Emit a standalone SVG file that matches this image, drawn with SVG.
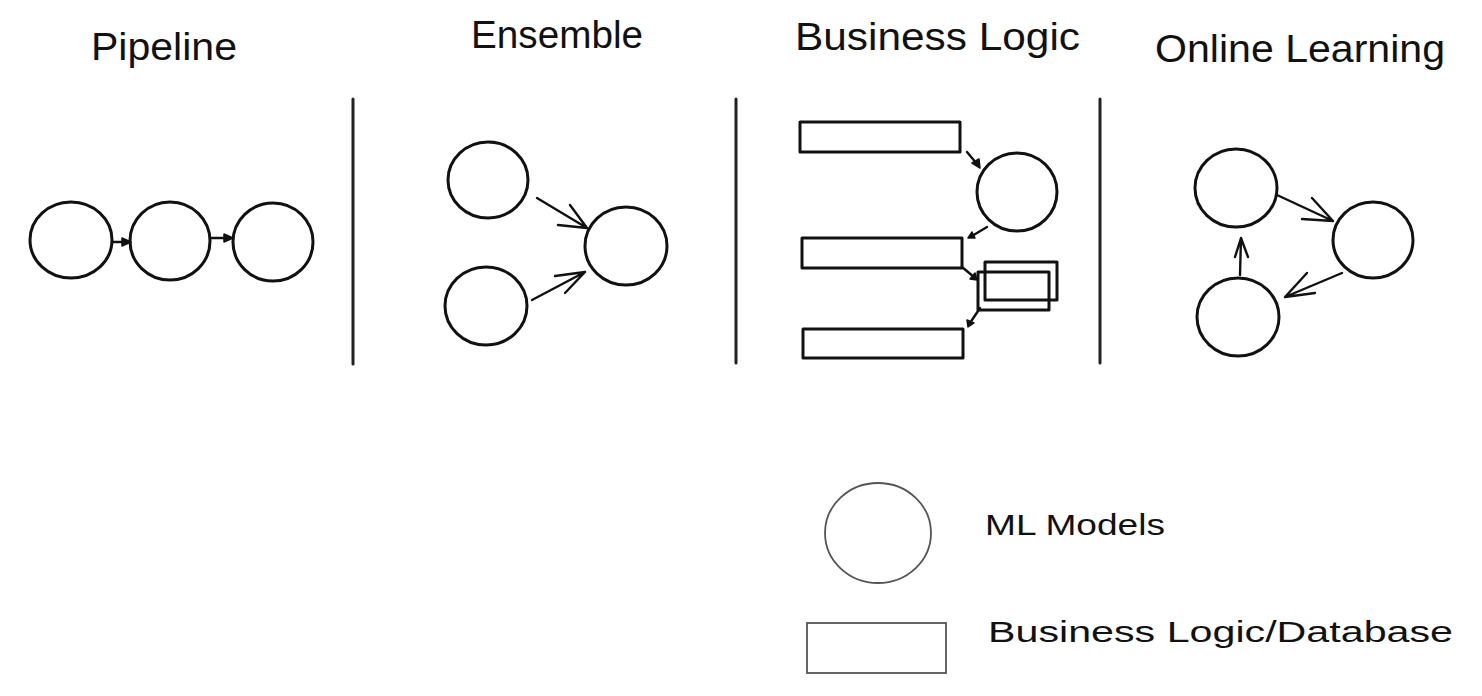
<svg xmlns="http://www.w3.org/2000/svg" width="1482" height="696" viewBox="0 0 1482 696">
<style>
.n{fill:none;stroke:#111;stroke-width:3;stroke-linecap:round;stroke-linejoin:round}
.lg{fill:none;stroke:#555;stroke-width:1.8}
.c{fill:none;stroke:#111;stroke-width:2.4;stroke-linecap:round;stroke-linejoin:round}
.h{fill:#111;stroke:#111;stroke-width:1.5;stroke-linejoin:round}
.div{stroke:#222;stroke-width:3;stroke-linecap:round}
.t{font-family:"Liberation Sans",Arial,sans-serif;font-size:38px;fill:#111}
.l{font-family:"Liberation Sans",Arial,sans-serif;font-size:30px;fill:#111}
</style>
<rect width="1482" height="696" fill="#fff"/>
<g id="titles">
<text class="t" x="91" y="60" textLength="146" lengthAdjust="spacingAndGlyphs">Pipeline</text>
<text class="t" x="471" y="48" textLength="172" lengthAdjust="spacingAndGlyphs">Ensemble</text>
<text class="t" x="795" y="50" textLength="285" lengthAdjust="spacingAndGlyphs">Business Logic</text>
<text class="t" x="1155" y="62" textLength="290" lengthAdjust="spacingAndGlyphs">Online Learning</text>
</g>
<g id="dividers">
<line class="div" x1="353" y1="99" x2="353" y2="364"/>
<line class="div" x1="736" y1="99" x2="736" y2="363"/>
<line class="div" x1="1100" y1="99" x2="1100" y2="363"/>
</g>
<g id="pipeline-1"><ellipse class="n" cx="71" cy="240" rx="41" ry="38"/></g>
<g id="pipeline-2"><ellipse class="n" cx="170" cy="241" rx="40" ry="39"/></g>
<g id="pipeline-3"><ellipse class="n" cx="273" cy="242" rx="40" ry="39"/></g>
<g id="ensemble-1"><ellipse class="n" cx="488" cy="180" rx="40" ry="38"/></g>
<g id="ensemble-2"><ellipse class="n" cx="486" cy="306" rx="41" ry="39"/></g>
<g id="ensemble-3"><ellipse class="n" cx="626" cy="246" rx="41" ry="39"/></g>
<g id="bl-rect-1"><rect class="n" x="800" y="122" width="160" height="30"/></g>
<g id="bl-model"><ellipse class="n" cx="1017" cy="192" rx="40" ry="39"/></g>
<g id="bl-rect-2"><rect class="n" x="802" y="238" width="160" height="30"/></g>
<g id="bl-double"><rect class="n" x="985" y="262" width="72" height="38" stroke-width="2.4"/><rect class="n" x="978" y="272" width="71" height="38" stroke-width="2.4"/></g>
<g id="bl-rect-3"><rect class="n" x="803" y="329" width="160" height="29"/></g>
<g id="ol-1"><ellipse class="n" cx="1236" cy="188" rx="41" ry="39"/></g>
<g id="ol-2"><ellipse class="n" cx="1373" cy="240" rx="40" ry="38"/></g>
<g id="ol-3"><ellipse class="n" cx="1238" cy="317" rx="41" ry="39"/></g>
<g id="legend-model"><ellipse class="lg" cx="878" cy="533" rx="53" ry="50"/><text class="l" x="985" y="535" textLength="180" lengthAdjust="spacingAndGlyphs">ML Models</text></g>
<g id="legend-db"><rect class="lg" x="807" y="623" width="139" height="50"/><text class="l" x="988" y="642" textLength="465" lengthAdjust="spacingAndGlyphs">Business Logic/Database</text></g>
<g id="connectors">
<path class="c" d="M112 242 L124 242" stroke-width="3.5"/>
<path class="h" d="M122 238 L131 242 L122 246 Z"/>
<path class="c" d="M211 238 L225 238" stroke-width="3.5"/>
<path class="h" d="M224 234 L233 238 L224 242 Z"/>
<path class="c" d="M537 198 L587 228 M570 205 L587 228 L558 225"/>
<path class="c" d="M532 300 L585 272 M555 276 L585 272 L565 293"/>
<path class="c" d="M967 152 L977 164" stroke-width="3"/>
<path class="h" d="M972 163 L980 168 L979 159 Z"/>
<path class="c" d="M987 227 L972 236" stroke-width="3"/>
<path class="h" d="M972 232 L968 238 L975 238 Z"/>
<path class="c" d="M962 267 L974 277" stroke-width="3"/>
<path class="h" d="M970 279 L977 280 L975 273 Z"/>
<path class="c" d="M980 308 L970 323" stroke-width="3"/>
<path class="h" d="M967 320 L968 327 L974 323 Z"/>
<path class="c" d="M1277 195 L1333 221 M1312 198 L1333 221 L1302 219"/>
<path class="c" d="M1342 273 L1285 297 M1307 273 L1285 297 L1315 293" stroke-width="3"/>
<path class="c" d="M1240 275 L1241 238 M1235 257 L1241 238 L1248 257"/>
</g>
</svg>
